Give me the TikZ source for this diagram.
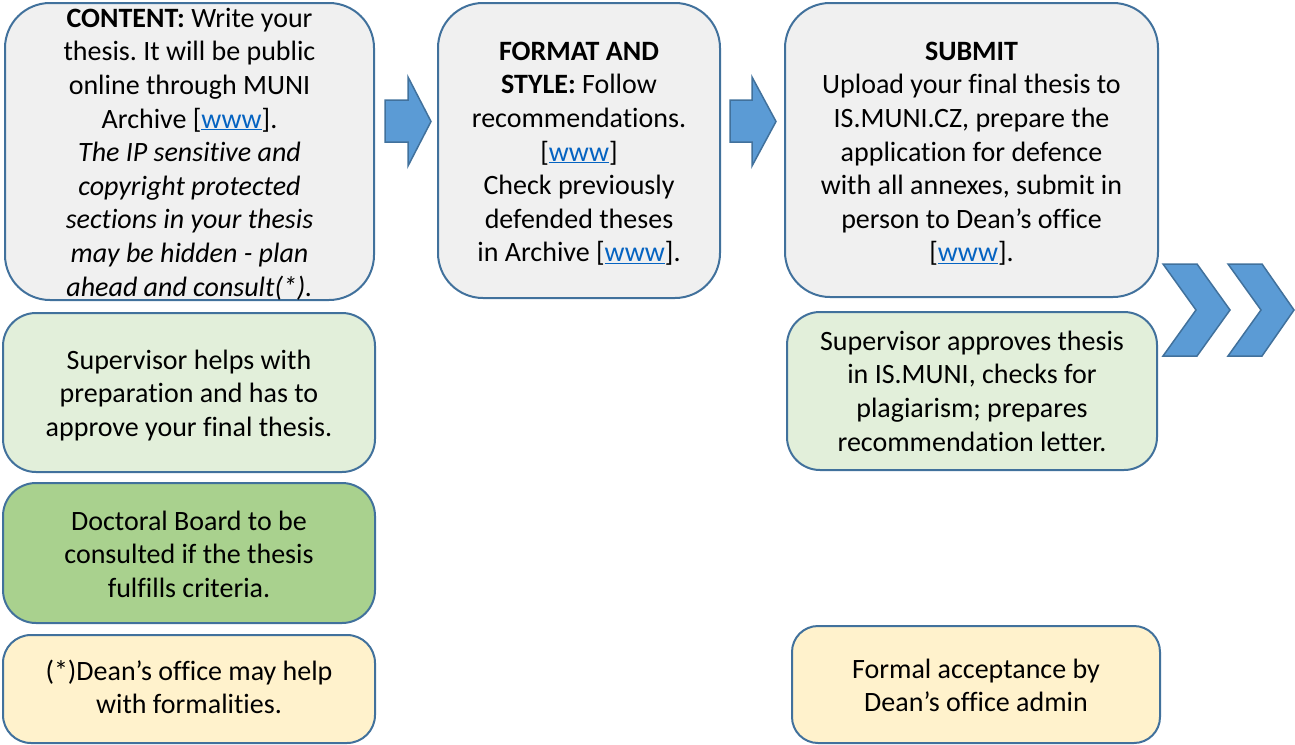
\documentclass[tikz,border=0pt]{standalone}
\usepackage{fontspec}
\setmainfont[Ligatures=NoCommon]{Carlito}
\frenchspacing
\definecolor{bordercol}{HTML}{41719C}
\definecolor{greyfill}{HTML}{F0F0F0}
\definecolor{lightgreen}{HTML}{E2EFDA}
\definecolor{midgreen}{HTML}{A9D18E}
\definecolor{lightyellow}{HTML}{FFF2CC}
\definecolor{arrowfill}{HTML}{5B9BD5}
\definecolor{linkblue}{HTML}{0563C1}
\newcommand\wwwlink{\textcolor{linkblue}{\underline{www}}}
\tikzset{
  box/.style={draw=bordercol, line width=2pt, inner sep=0pt},
  txt/.style={align=center, inner sep=0pt, anchor=north, text=black,
    font=\fontsize{28pt}{33.6pt}\selectfont},
  blockarrow/.style={fill=arrowfill, draw=bordercol, line width=1.5pt, line join=miter}
}
\begin{document}
\begin{tikzpicture}[x=1pt,y=-1pt]
\useasboundingbox (0,0) rectangle (1295,744);
% boxes
\node[box, fill=greyfill, rounded corners=45pt, minimum width=369pt, minimum height=297pt] (content) at (189.5,151.5) {};
\node[box, fill=greyfill, rounded corners=45pt, minimum width=282pt, minimum height=295pt] (format) at (579,150.5) {};
\node[box, fill=greyfill, rounded corners=45pt, minimum width=373pt, minimum height=294pt] (submit) at (971.5,150) {};
\node[box, fill=lightgreen, rounded corners=33pt, minimum width=372pt, minimum height=159pt] (sup1) at (189,392.5) {};
\node[box, fill=midgreen, rounded corners=33pt, minimum width=372pt, minimum height=140pt] (board) at (189,553) {};
\node[box, fill=lightyellow, rounded corners=28pt, minimum width=372pt, minimum height=108pt] (dean1) at (189,689) {};
\node[box, fill=lightgreen, rounded corners=33pt, minimum width=370pt, minimum height=158pt] (sup2) at (972,391) {};
\node[box, fill=lightyellow, rounded corners=26pt, minimum width=368pt, minimum height=117pt] (dean2) at (976,684.5) {};
% texts
\node[txt] (contentT) at (189.5,3.5) {\strut\textbf{CONTENT:} Write your\\
thesis. It will be public\\
online through MUNI\\
Archive [\wwwlink].\\
\itshape The IP sensitive and\\
\itshape copyright protected\\
\itshape sections in your thesis\\
\itshape may be hidden - plan\\
\itshape ahead and consult(*).\strut};
\node[txt] (formatT) at (579,36.5) {\strut\textbf{FORMAT AND}\\
\textbf{STYLE:} Follow\\
recommendations.\\
{[}\wwwlink]\\
Check previously\\
defended theses\\
in Archive [\wwwlink].\strut};
\node[txt] (submitT) at (971.5,36.5) {\strut\textbf{SUBMIT}\\
Upload your final thesis to\\
IS.MUNI.CZ, prepare the\\
application for defence\\
with all annexes, submit in\\
person to Dean’s office\\
{[}\wwwlink].\strut};
\node[txt] (sup1T) at (189,345.5) {\strut Supervisor helps with\\
preparation and has to\\
approve your final thesis.\strut};
\node[txt] (boardT) at (189,506.5) {\strut Doctoral Board to be\\
consulted if the thesis\\
fulfills criteria.\strut};
\node[txt] (dean1T) at (189,656.5) {\strut(*)Dean’s office may help\\
with formalities.\strut};
\node[txt] (sup2T) at (972,326.5) {\strut Supervisor approves thesis\\
in IS.MUNI, checks for\\
plagiarism; prepares\\
recommendation letter.\strut};
\node[txt] (dean2T) at (976,654.5) {\strut Formal acceptance by\\
Dean’s office admin\strut};
% block arrows
\draw[blockarrow] (385,100) -- (408,100) -- (408,77) -- (431,121.5) -- (408,166) -- (408,142) -- (385,142) -- cycle;
\draw[blockarrow] (730,100) -- (752,100) -- (752,77) -- (776,121.5) -- (752,166) -- (752,142) -- (730,142) -- cycle;
% chevrons
\draw[blockarrow] (1163,264) -- (1197,264) -- (1230,310) -- (1197,356) -- (1163,356) -- (1196,310) -- cycle;
\draw[blockarrow] (1228,264) -- (1262,264) -- (1294,310) -- (1262,356) -- (1228,356) -- (1261,310) -- cycle;
\end{tikzpicture}
\end{document}
